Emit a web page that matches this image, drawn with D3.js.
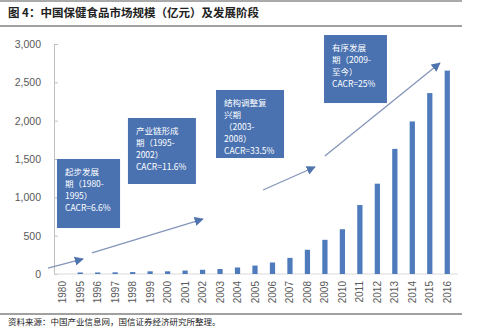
<!DOCTYPE html>
<html>
<head>
<meta charset="utf-8">
<script src="https://cdn.jsdelivr.net/npm/d3@7"></script>
<style>
  body { margin: 0; background: #fff; }
  svg { display: block; }
</style>
</head>
<body>
<div id="chart"></div>
<script>
// data
const years = ["1980", "1995", "1996", "1997", "1998", "1999", "2000", "2001", "2002", "2003", "2004",
  "2005", "2006", "2007", "2008", "2009", "2010", "2011", "2012", "2013", "2014", "2015", "2016"];
const marketSize = [0, 20, 20, 22, 25, 35, 35, 45, 55, 65, 85,
  110, 150, 210, 316, 446, 584, 900, 1178, 1632, 1990, 2360, 2653];
const yTicks = [0, 500, 1000, 1500, 2000, 2500, 3000];

const stageLines = [
  ["起步发展", "期（1980-", "1995）", "CACR=6.6%"],
  ["产业链形成", "期（1995-", "2002）", "CACR=11.6%"],
  ["结构调整复", "兴期", "（2003-", "2008）", "CACR=33.5%"],
  ["有序发展", "期（2009-", "至今）", "CACR=25%"]
];
// box extents in chart units: [band index from, band index to, value top, value bottom]
const stageBoxes = [
  [0.17, 3.78, 1500, 600],
  [4.23, 8.12, 2035, 1174],
  [9.27, 13.16, 2400, 1513],
  [15.45, 19.05, 3117, 2230]
];
// arrows: [index from, value from, index to, value to]
const stageArrows = [
  [-0.34, 78, 1.66, 196],
  [2.17, 274, 8.52, 717],
  [11.96, 1096, 14.93, 1396],
  [15.5, 1539, 22.08, 2752]
];

const title = "图 4：中国保健食品市场规模（亿元）及发展阶段";
const source = "资料来源：中国产业信息网，国信证券经济研究所整理。";

const width = 500, height = 333;
const m = { left: 54, right: 456, top: 44, bottom: 274 };

const svg = d3.select("#chart").append("svg")
  .attr("width", width).attr("height", height)
  .style("font-family", "'Noto Sans CJK SC', 'Noto Sans', sans-serif");

const x = d3.scaleBand().domain(years).range([m.left, m.right]).paddingInner(0.7).paddingOuter(0.35);
const xi = d3.scaleLinear().domain([0, years.length]).range([m.left, m.right]);
const y = d3.scaleLinear().domain([0, 3000]).range([m.bottom, m.top]);

// title + rules
svg.append("line").attr("x1", 0).attr("x2", 462).attr("y1", 1).attr("y2", 1)
  .attr("stroke", "#555").attr("stroke-width", 1);
svg.append("text").attr("x", 8).attr("y", 17).text(title)
  .attr("font-size", 11.5).attr("font-weight", "bold").attr("fill", "#222");
svg.append("line").attr("x1", 0).attr("x2", 462).attr("y1", 26).attr("y2", 26)
  .attr("stroke", "#444").attr("stroke-width", 1.2);

// y axis
const yAxis = svg.append("g").attr("transform", `translate(${m.left},0)`)
  .call(d3.axisLeft(y).tickValues(yTicks).tickFormat(d3.format(",")).tickSizeInner(-4).tickSizeOuter(0).tickPadding(13));
yAxis.select(".domain").attr("stroke", "#bfbfbf");
yAxis.selectAll(".tick line").attr("stroke", "#bfbfbf");
yAxis.selectAll("text").attr("fill", "#595959").attr("font-size", 10.5)
  .style("font-family", "'Liberation Sans', Arial, sans-serif");

// x axis
const xAxis = svg.append("g").attr("transform", `translate(0,${m.bottom})`)
  .call(d3.axisBottom(x).tickSize(0).tickSizeOuter(0));
xAxis.select(".domain").attr("stroke", "#d9d9d9").attr("d", `M${m.left},0H${m.right + 2}`);
xAxis.selectAll("text")
  .attr("transform", "rotate(-90)")
  .attr("text-anchor", "end")
  .attr("x", -7).attr("y", 0).attr("dy", "0.35em")
  .attr("fill", "#595959").attr("font-size", 10)
  .style("font-family", "'Liberation Sans', Arial, sans-serif");

// bars
svg.append("g").selectAll("rect")
  .data(years.map((d, i) => ({ year: d, value: marketSize[i] })))
  .join("rect")
  .attr("x", d => x(d.year))
  .attr("width", x.bandwidth())
  .attr("y", d => y(d.value))
  .attr("height", d => m.bottom - y(d.value))
  .attr("fill", "#4f7bbc");

// arrows
const defs = svg.append("defs");
defs.append("marker").attr("id", "arrow")
  .attr("viewBox", "0 0 10 10").attr("refX", 9).attr("refY", 5)
  .attr("markerWidth", 7).attr("markerHeight", 7).attr("orient", "auto")
  .append("path").attr("d", "M0,0L10,5L0,10z").attr("fill", "#4f73ad");

svg.append("g").selectAll("line")
  .data(stageArrows)
  .join("line")
  .attr("x1", d => xi(d[0])).attr("y1", d => y(d[1]))
  .attr("x2", d => xi(d[2])).attr("y2", d => y(d[3]))
  .attr("stroke", "#8495b9").attr("stroke-width", 1.3)
  .attr("marker-end", "url(#arrow)");

// stage boxes
const box = svg.append("g").selectAll("g")
  .data(stageBoxes.map((b, i) => ({ b, lines: stageLines[i] })))
  .join("g")
  .attr("transform", d => `translate(${xi(d.b[0])},${y(d.b[2])})`);

box.append("rect")
  .attr("width", d => xi(d.b[1]) - xi(d.b[0]))
  .attr("height", d => y(d.b[3]) - y(d.b[2]))
  .attr("fill", "#4a72b1");

box.selectAll("text")
  .data(d => d.lines)
  .join("text")
  .attr("x", 8)
  .attr("y", (d, i) => 16 + i * 12)
  .attr("fill", "#fff")
  .attr("font-size", 8.5)
  .text(d => d);

// source
svg.append("line").attr("x1", 0).attr("x2", 462).attr("y1", 314).attr("y2", 314)
  .attr("stroke", "#444").attr("stroke-width", 1.2);
svg.append("text").attr("x", 8).attr("y", 325).text(source)
  .attr("font-size", 8.5).attr("fill", "#222");
</script>
</body>
</html>
